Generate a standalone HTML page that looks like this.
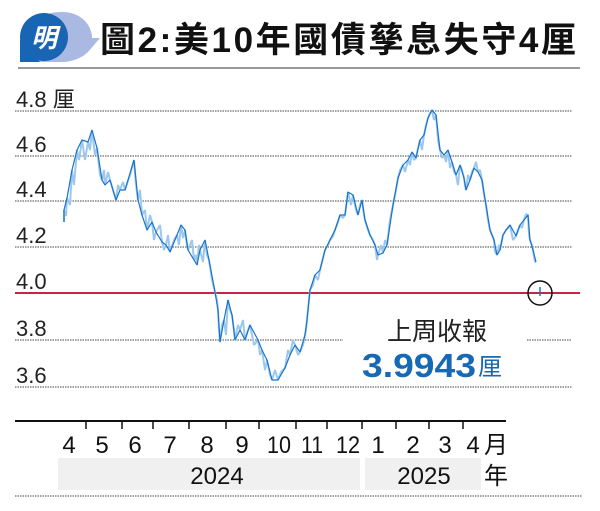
<!DOCTYPE html>
<html><head><meta charset="utf-8"><style>
body{margin:0;background:#fff;width:600px;height:511px;overflow:hidden}
svg{display:block}
text{font-family:"Liberation Sans","Noto Sans CJK TC",sans-serif}
</style></head><body>
<svg width="600" height="511" viewBox="0 0 600 511">
<path d="M62,12 C82,12 92,26 92,38 L100,38 L88,52 C82,58 72,62 62,62 L22,62 L22,40 C22,24 40,12 62,12Z" fill="#aab9e2"/>
<circle cx="44" cy="37" r="24" fill="#1865b4"/>
<path d="M20,40 L20,62 L40,62Z" fill="#1865b4"/>
<text x="44" y="47" font-size="26" font-weight="bold" fill="#fff" text-anchor="middle" font-style="italic">明</text>
<text x="100" y="52" font-size="35" font-weight="bold" fill="#111" textLength="476" lengthAdjust="spacing">圖2:美10年國債孳息失守4厘</text>
<rect x="18" y="67" width="562" height="2" fill="#999"/>
<g stroke="#444" stroke-width="1" stroke-dasharray="1.5,1">
<line x1="15" y1="111" x2="572" y2="111"/>
<line x1="15" y1="156" x2="572" y2="156"/>
<line x1="15" y1="201" x2="572" y2="201"/>
<line x1="15" y1="247" x2="572" y2="247"/>
<line x1="15" y1="340" x2="343" y2="340"/>
<line x1="527" y1="340" x2="572" y2="340"/>
<line x1="15" y1="387" x2="572" y2="387"/>
<line x1="15" y1="496" x2="582" y2="496"/>
</g>
<line x1="15" y1="293" x2="580" y2="293" stroke="#c8244a" stroke-width="2"/>
<g font-size="22" fill="#222">
<text x="16" y="107">4.8 厘</text>
<text x="16" y="152">4.6</text>
<text x="16" y="197">4.4</text>
<text x="16" y="243">4.2</text>
<text x="16" y="289">4.0</text>
<text x="16" y="336">3.8</text>
<text x="16" y="383">3.6</text>
</g>
<g fill="none" stroke-linejoin="bevel">
<polyline stroke="#9cc8ee" stroke-width="2" points="64,222 64,210 66,216 67,198 70,205 72,170 74,185 77,150 79,160 82,140 85,160 88,142 90,150 92,130 95,155 97,148 100,175 102,180 104,170 105,185 108,172 110,180 113,190 116,200 118,185 120,190 123,182 125,190 130,175 134,160 136,185 138,200 140,190 142,215 145,210 147,230 150,215 152,222 154,240 156,232 160,225 162,242 164,250 166,245 168,235 170,252 174,240 177,235 179,245 181,225 183,238 185,230 187,245 188,250 192,240 194,260 196,255 197,265 199,245 200,250 203,262 205,240 207,255 209,260 212,280 215,292 217,300 218,310 219,330 220,342 222,325 224,320 226,335 228,300 230,310 232,315 234,330 235,340 238,325 240,330 243,320 245,340 248,330 250,325 254,345 258,340 260,355 262,350 265,370 267,360 270,375 272,380 275,370 278,380 281,372 285,368 288,350 290,355 293,340 295,345 298,355 300,352 303,345 305,335 306,330 307,320 309,300 310,290 313,285 315,275 318,280 320,270 323,258 325,250 328,245 330,240 333,236 335,230 338,222 340,215 343,218 345,215 347,200 348,192 351,205 353,195 356,210 358,215 360,205 362,200 364,215 365,220 368,230 370,235 373,240 375,245 377,260 378,255 381,245 383,253 385,240 387,245 390,220 393,205 396,190 398,178 400,170 403,165 405,172 408,160 410,165 412,152 414,160 416,158 418,148 420,140 422,150 424,135 426,125 428,118 430,113 432,110 434,120 436,115 438,140 440,150 442,158 444,155 446,162 448,150 450,168 452,162 454,172 456,175 458,185 460,165 462,170 464,178 465,185 466,190 468,175 470,180 472,172 474,168 476,162 478,172 480,170 482,180 484,195 486,205 488,220 490,230 492,235 494,240 495,252 497,255 499,245 500,250 502,240 503,235 505,232 506,230 508,228 510,225 513,240 516,236 518,230 520,225 522,228 524,220 526,214 528,215 529,235 530,240 532,245 533,250 535,262 536,262"/>
<polyline stroke="#1a73c8" stroke-width="1.2" points="64,222 64,210 67,198 72,170 77,150 82,140 88,142 92,130 97,148 102,180 105,185 110,180 116,200 120,190 125,190 134,160 138,200 142,215 147,230 152,222 156,232 162,242 166,245 170,252 177,235 181,225 185,230 188,250 194,260 197,265 200,250 205,240 209,260 215,292 218,310 220,342 224,320 228,300 232,315 235,340 240,330 245,340 250,325 258,340 262,350 267,360 272,380 278,380 285,368 290,355 295,345 300,352 305,335 307,320 310,290 315,275 320,270 325,250 330,240 335,230 340,215 345,215 348,192 353,195 358,215 362,200 365,220 370,235 375,245 378,255 383,253 387,245 393,205 398,178 403,165 408,160 412,152 416,158 420,140 424,135 428,118 432,110 436,115 440,150 444,155 448,150 452,162 456,175 460,165 464,178 466,190 470,180 474,168 478,172 482,180 486,205 490,230 494,240 497,255 500,250 503,235 506,230 510,225 516,236 520,225 524,220 528,215 530,240 533,250 536,262"/>
</g>
<line x1="540" y1="287" x2="540" y2="296" stroke="#1a73c8" stroke-width="1.5"/>
<circle cx="540" cy="293" r="12" fill="none" stroke="#111" stroke-width="1.5"/>
<text x="437" y="340" font-size="25" fill="#222" text-anchor="middle">上周收報</text>
<text x="362" y="377" font-size="33" font-weight="bold" fill="#1569b5" textLength="114" lengthAdjust="spacingAndGlyphs">3.9943</text>
<text x="478" y="375" font-size="24" fill="#1569b5">厘</text>
<line x1="15" y1="421" x2="506" y2="421" stroke="#111" stroke-width="2"/>
<g stroke="#111" stroke-width="1.5">
<line x1="86" y1="421" x2="86" y2="429"/><line x1="122" y1="421" x2="122" y2="429"/><line x1="153" y1="421" x2="153" y2="429"/><line x1="189" y1="421" x2="189" y2="429"/><line x1="226" y1="421" x2="226" y2="429"/><line x1="259" y1="421" x2="259" y2="429"/><line x1="296" y1="421" x2="296" y2="429"/><line x1="327" y1="421" x2="327" y2="429"/><line x1="362" y1="421" x2="362" y2="429"/><line x1="396" y1="421" x2="396" y2="429"/><line x1="429" y1="421" x2="429" y2="429"/><line x1="463" y1="421" x2="463" y2="429"/>
</g>
<g font-size="24" fill="#111" text-anchor="middle">
<text x="69" y="453">4</text><text x="102" y="453">5</text><text x="135" y="453">6</text><text x="170" y="453">7</text><text x="207" y="453">8</text><text x="242" y="453">9</text><text x="279" y="453" textLength="24" lengthAdjust="spacingAndGlyphs">10</text><text x="312" y="453" textLength="22" lengthAdjust="spacingAndGlyphs">11</text><text x="348" y="453" textLength="24" lengthAdjust="spacingAndGlyphs">12</text><text x="378" y="453">1</text><text x="413" y="453">2</text><text x="445" y="453">3</text><text x="473" y="453">4</text><text x="496" y="453">月</text>
</g>
<rect x="58" y="458" width="302" height="32" fill="#f0f0f0"/>
<rect x="365" y="458" width="116" height="32" fill="#f0f0f0"/>
<g font-size="24" fill="#111" text-anchor="middle">
<text x="217" y="484">2024</text><text x="424" y="484">2025</text><text x="496" y="484">年</text>
</g>
</svg>
</body></html>
